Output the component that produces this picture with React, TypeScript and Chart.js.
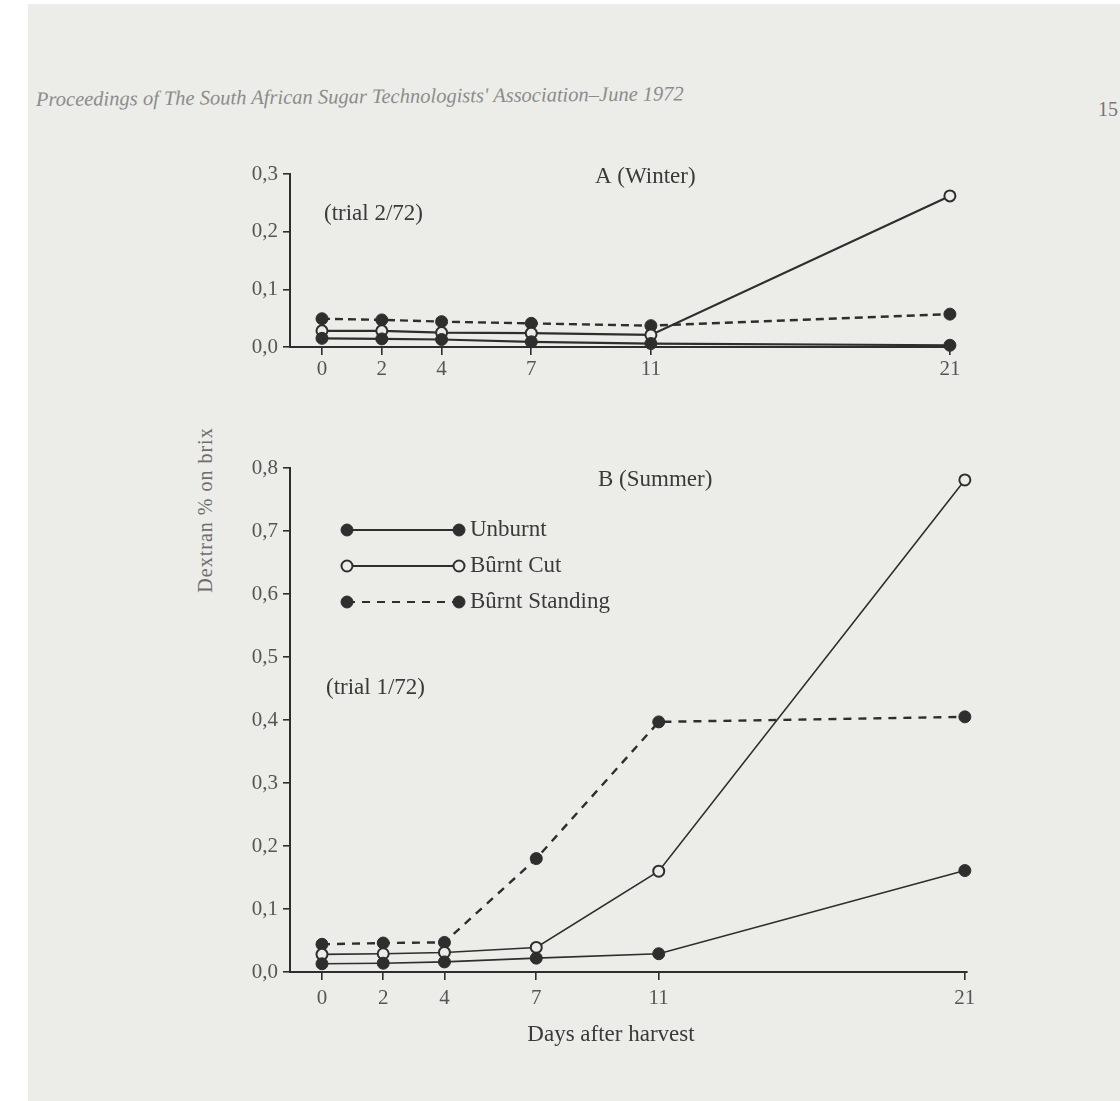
import React, { useEffect, useRef } from "react";
import { Chart, registerables } from "chart.js";

Chart.register(...registerables);

// ---- data ----
const days = [0, 2, 4, 7, 11, 21];
const xTickValues = [0, 2, 4, 7, 11, 21];
const seriesNames = ["Unburnt", "Bu\u0311rnt Cut", "Bu\u0311rnt Standing"];

const winterUnburnt = [0.015, 0.014, 0.013, 0.009, 0.006, 0.003];
const winterBurntCut = [0.028, 0.028, 0.025, 0.024, 0.021, 0.262];
const winterBurntStanding = [0.049, 0.047, 0.044, 0.041, 0.037, 0.057];

const summerUnburnt = [0.013, 0.014, 0.016, 0.022, 0.029, 0.161];
const summerBurntCut = [0.028, 0.029, 0.031, 0.039, 0.16, 0.781];
const summerBurntStanding = [0.044, 0.046, 0.047, 0.18, 0.397, 0.405];

// ---- styles ----
const PAGE = "#ecece9";
const INK = "#2e2e2e";
const TICK = "#555555";
const SERIF = "'Liberation Serif', 'DejaVu Serif', serif";

type PanelOpts = {
  values: number[][];
  yMax: number;
  xMin: number;
  xMax: number;
  topPad: number;
  rightPad: number;
  yWidth: number;
  xHeight: number;
  xLabelPad: number;
  lineWidth: number;
  dashWidth: number;
  dash: number[];
  radius: number;
  texts: { text: string; dx: number; dy: number; align?: CanvasTextAlign }[];
  legend?: { dx: number; dy: number; gap: number; len: number; textDx: number };
};

function makeDatasets(o: PanelOpts) {
  const styles = [
    { fill: INK, dash: [] as number[], width: o.lineWidth },
    { fill: PAGE, dash: [] as number[], width: o.lineWidth },
    { fill: INK, dash: o.dash, width: o.dashWidth },
  ];
  return o.values.map((vals, i) => ({
    label: seriesNames[i],
    data: days.map((d, j) => ({ x: d, y: vals[j] })),
    borderColor: INK,
    borderWidth: styles[i].width,
    borderDash: styles[i].dash,
    pointRadius: i === 1 ? o.radius - 0.5 : o.radius,
    pointBackgroundColor: styles[i].fill,
    pointBorderColor: INK,
    pointBorderWidth: i === 1 ? 2 : 1,
    tension: 0,
    clip: false as any,
  }));
}

function annotPlugin(o: PanelOpts) {
  return {
    id: "annot",
    afterDraw(chart: any) {
      const ctx = chart.ctx as CanvasRenderingContext2D;
      const ca = chart.chartArea;
      ctx.save();
      ctx.fillStyle = "#3a3a3a";
      ctx.font = `23px ${SERIF}`;
      ctx.textBaseline = "middle";
      for (const t of o.texts) {
        ctx.textAlign = t.align || "left";
        ctx.fillText(t.text, ca.left + t.dx, ca.top + t.dy);
      }
      if (o.legend) {
        const L = o.legend;
        chart.data.datasets.forEach((ds: any, i: number) => {
          const y = ca.top + L.dy + i * L.gap;
          const x0 = ca.left + L.dx;
          const x1 = x0 + L.len;
          ctx.strokeStyle = INK;
          ctx.lineWidth = i === 2 ? 2.2 : 2;
          ctx.setLineDash(ds.borderDash || []);
          ctx.beginPath();
          ctx.moveTo(x0, y);
          ctx.lineTo(x1, y);
          ctx.stroke();
          ctx.setLineDash([]);
          for (const x of [x0, x1]) {
            ctx.beginPath();
            ctx.arc(x, y, ds.pointRadius, 0, Math.PI * 2);
            ctx.fillStyle = ds.pointBackgroundColor;
            ctx.fill();
            ctx.lineWidth = ds.pointBorderWidth;
            ctx.strokeStyle = INK;
            ctx.stroke();
          }
          ctx.fillStyle = "#3a3a3a";
          ctx.textAlign = "left";
          ctx.fillText(ds.label, ca.left + L.textDx, y);
        });
      }
      ctx.restore();
    },
  };
}

function makeConfig(o: PanelOpts): any {
  return {
    type: "line",
    data: { datasets: makeDatasets(o) },
    options: {
      responsive: false,
      animation: false,
      events: [],
      layout: { padding: { left: 0, top: o.topPad, right: o.rightPad, bottom: 0 } },
      plugins: { legend: { display: false }, tooltip: { enabled: false } },
      scales: {
        x: {
          type: "linear",
          min: o.xMin,
          max: o.xMax,
          afterBuildTicks: (s: any) => {
            s.ticks = xTickValues.map((v) => ({ value: v }));
          },
          afterFit: (s: any) => {
            s.height = o.xHeight;
          },
          grid: { drawOnChartArea: false, drawTicks: true, tickLength: 8, color: INK, lineWidth: 1.6 },
          border: { display: true, color: INK, width: 2 },
          ticks: {
            color: TICK,
            font: { family: SERIF, size: 21 },
            padding: o.xLabelPad,
            maxRotation: 0,
            autoSkip: false,
            callback: (v: any) => String(v),
          },
        },
        y: {
          type: "linear",
          min: 0,
          max: o.yMax,
          afterFit: (s: any) => {
            s.width = o.yWidth;
          },
          grid: { drawOnChartArea: false, drawTicks: true, tickLength: 7, color: INK, lineWidth: 1.6 },
          border: { display: true, color: INK, width: 2 },
          ticks: {
            stepSize: 0.1,
            color: TICK,
            font: { family: SERIF, size: 21 },
            padding: 5,
            callback: (v: any) => Number(v).toFixed(1).replace(".", ","),
          },
        },
      },
    },
    plugins: [annotPlugin(o)],
  };
}

function Panel(props: { left: number; top: number; width: number; height: number; opts: PanelOpts }) {
  const ref = useRef<HTMLCanvasElement>(null);
  useEffect(() => {
    const chart = new Chart(ref.current as HTMLCanvasElement, makeConfig(props.opts));
    return () => chart.destroy();
  }, []);
  return (
    <div style={{ position: "absolute", left: props.left, top: props.top, width: props.width, height: props.height }}>
      <canvas ref={ref} width={props.width} height={props.height} style={{ width: props.width, height: props.height, display: "block" }} />
    </div>
  );
}

const winterOpts: PanelOpts = {
  values: [winterUnburnt, winterBurntCut, winterBurntStanding],
  yMax: 0.3,
  xMin: -1.07,
  xMax: 21.07,
  topPad: 24,
  rightPad: 48,
  yWidth: 90,
  xHeight: 63,
  xLabelPad: 2,
  lineWidth: 2.2,
  dashWidth: 2.4,
  dash: [8, 5],
  radius: 6,
  texts: [
    { text: "A (Winter)", dx: 305, dy: 3 },
    { text: "(trial 2/72)", dx: 34, dy: 40 },
  ],
};

const summerOpts: PanelOpts = {
  values: [summerUnburnt, summerBurntCut, summerBurntStanding],
  yMax: 0.8,
  xMin: -1.045,
  xMax: 21.07,
  topPad: 28,
  rightPad: 53,
  yWidth: 90,
  xHeight: 88,
  xLabelPad: 6,
  lineWidth: 1.6,
  dashWidth: 2.4,
  dash: [8, 7],
  radius: 6,
  texts: [
    { text: "B (Summer)", dx: 308, dy: 12 },
    { text: "(trial 1/72)", dx: 36, dy: 220 },
    { text: "Days after harvest", dx: 321, dy: 567, align: "center" },
  ],
  legend: { dx: 57, dy: 62, gap: 36, len: 112, textDx: 180 },
};

export default function App() {
  return (
    <div style={{ position: "absolute", left: 0, top: 0, width: 1120, height: 1101, background: "#ffffff", overflow: "hidden" }}>
      <div style={{ position: "absolute", left: 28, top: 4, right: 0, bottom: 0, background: PAGE }} />
      <div
        style={{
          position: "absolute",
          left: 36,
          top: 88,
          fontFamily: SERIF,
          fontStyle: "italic",
          fontSize: 20.5,
          color: "#8c8c8c",
          whiteSpace: "nowrap",
          transform: "rotate(-0.5deg)",
          transformOrigin: "left center",
        }}
      >
        Proceedings of The South African Sugar Technologists' Association–June 1972
      </div>
      <div style={{ position: "absolute", left: 1098, top: 98, fontFamily: SERIF, fontSize: 20, color: "#777", whiteSpace: "nowrap" }}>15</div>
      <div
        style={{
          position: "absolute",
          left: 205,
          top: 510,
          fontFamily: SERIF,
          fontSize: 20,
          letterSpacing: 1,
          color: "#6e6e6e",
          whiteSpace: "nowrap",
          transform: "translate(-50%, -50%) rotate(-90deg)",
        }}
      >
        Dextran % on brix
      </div>
      <Panel left={200} top={150} width={800} height={260} opts={winterOpts} />
      <Panel left={200} top={440} width={820} height={620} opts={summerOpts} />
    </div>
  );
}
